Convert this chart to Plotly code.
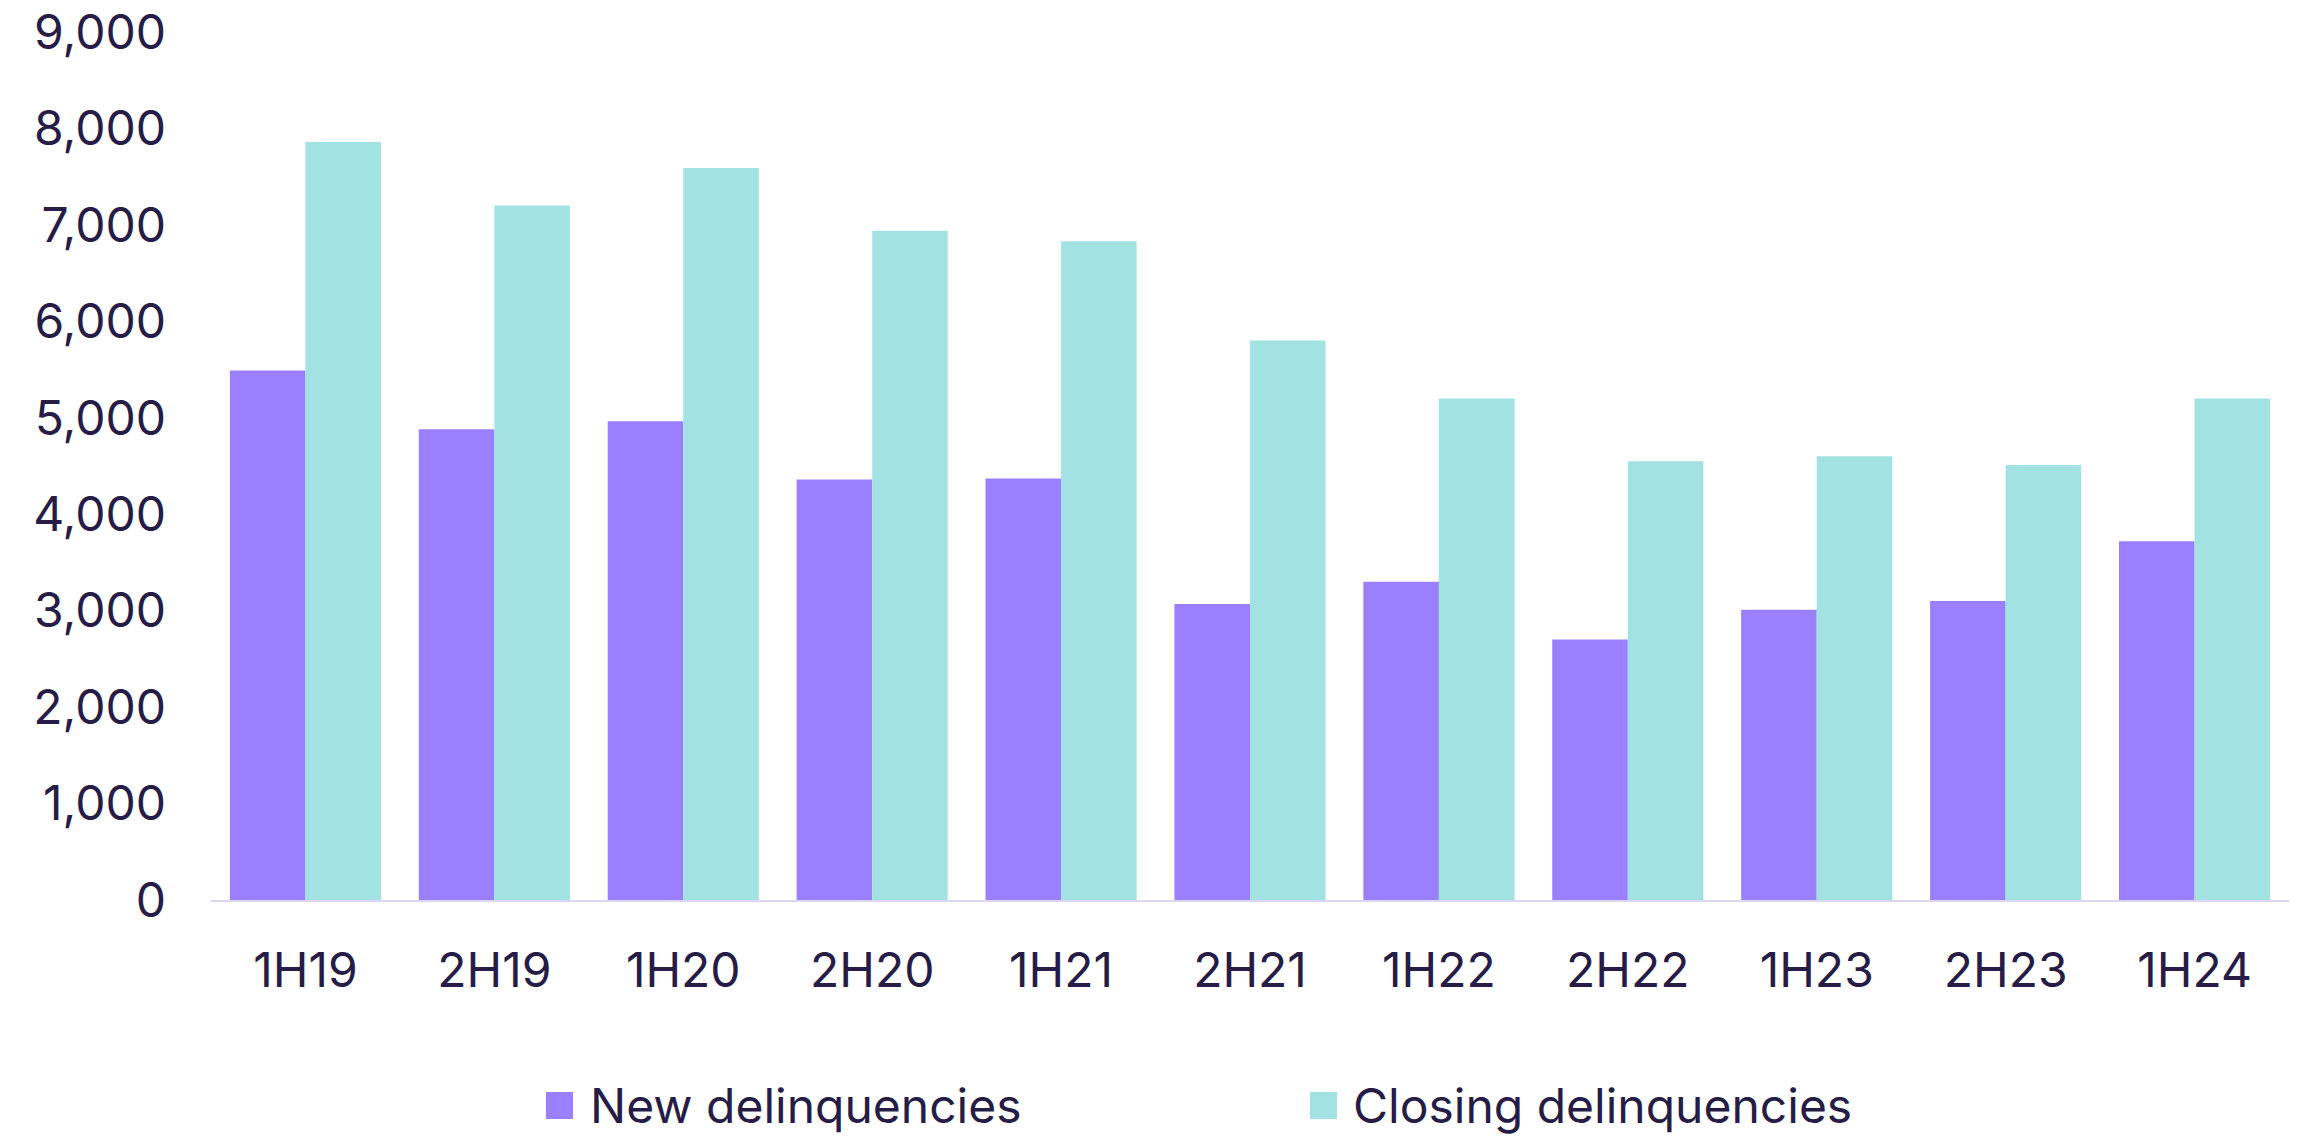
import plotly.graph_objects as go

periods = ["1H19", "2H19", "1H20", "2H20", "1H21", "2H21", "1H22", "2H22", "1H23", "2H23", "1H24"]
new_delinquencies = [5490, 4880, 4965, 4360, 4370, 3070, 3300, 2700, 3010, 3100, 3720]
closing_delinquencies = [7860, 7200, 7590, 6940, 6830, 5800, 5200, 4550, 4600, 4510, 5200]
series_names = ["New delinquencies", "Closing delinquencies"]
y_ticks = [0, 1000, 2000, 3000, 4000, 5000, 6000, 7000, 8000, 9000]

PURPLE = "#9a7fff"
TEAL = "#a3e2e2"
TEXT = "#261c45"
AXIS = "#ddd6f3"
FONT = "Inter"

W, H = 2316, 1136
ML, MR, MT, MB = 211, 27, 32, 236
PW, PH = W - ML - MR, H - MT - MB

fig = go.Figure()
fig.add_trace(go.Bar(x=periods, y=new_delinquencies, name=series_names[0],
                     marker=dict(color=PURPLE, line=dict(width=0)), showlegend=False))
fig.add_trace(go.Bar(x=periods, y=closing_delinquencies, name=series_names[1],
                     marker=dict(color=TEAL, line=dict(width=0)), showlegend=False))

def px_x(p):
    return (p - ML) / PW

def px_y(p):
    return (H - MB - p) / PH

# custom legend (large square swatches like the reference)
legend_items = [(546, 588, PURPLE, series_names[0]), (1310, 1351, TEAL, series_names[1])]
for mx, tx, col, name in legend_items:
    fig.add_shape(type="rect", xref="paper", yref="paper",
                  x0=px_x(mx), x1=px_x(mx + 27), y0=px_y(1092), y1=px_y(1119),
                  fillcolor=col, line=dict(width=0))
    fig.add_annotation(xref="paper", yref="paper", x=px_x(tx), y=px_y(1105),
                       text=name, showarrow=False, xanchor="left", yanchor="middle",
                       font=dict(family=FONT, size=48, color=TEXT))

fig.update_layout(
    width=W, height=H,
    margin=dict(l=ML, r=MR, t=MT, b=MB, autoexpand=False),
    paper_bgcolor="white", plot_bgcolor="white",
    barmode="group", bargap=0.2, bargroupgap=0,
    font=dict(family=FONT, size=48, color=TEXT),
    showlegend=False,
)
fig.update_xaxes(showgrid=False, showline=True, linecolor=AXIS, linewidth=2,
                 ticks="", ticklabelstandoff=27, automargin=False,
                 tickfont=dict(family=FONT, size=48, color=TEXT))
fig.update_yaxes(range=[0, 9000], tickvals=y_ticks, tickformat=",d",
                 showgrid=False, zeroline=False, showline=False, ticks="",
                 ticklabelstandoff=44, ticklabeloverflow="allow", automargin=False,
                 tickfont=dict(family=FONT, size=48, color=TEXT))

fig.write_html("out.html",
               config={"displayModeBar": False},
               post_script="document.body.style.margin='0';document.body.style.overflow='hidden';")
